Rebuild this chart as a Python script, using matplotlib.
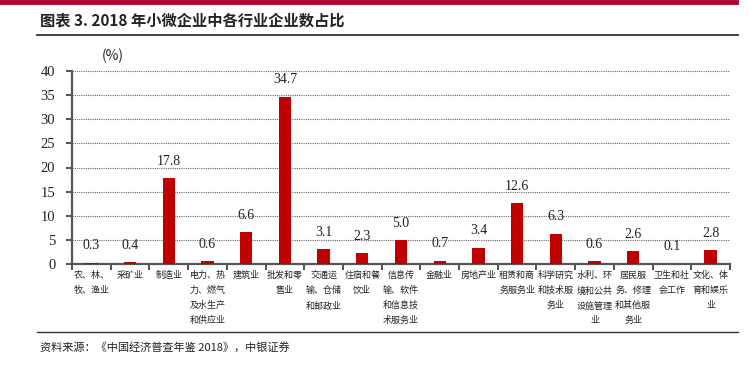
import matplotlib
matplotlib.use('Agg')
from matplotlib import pyplot as plt
from matplotlib.lines import Line2D
import numpy as np

plt.rcParams['font.family'] = ['Noto Sans CJK SC', 'DejaVu Sans']

# 行业名称（按图中换行）
categories = ['农、林、\n牧、渔业', '采矿业', '制造业', '电力、热\n力、燃气\n及水生产\n和供应业', '建筑业',
              '批发和零\n售业', '交通运\n输、仓储\n和邮政业', '住宿和餐\n饮业', '信息传\n输、软件\n和信息技\n术服务业',
              '金融业', '房地产业', '租赁和商\n务服务业', '科学研究\n和技术服\n务业', '水利、环\n境和公共\n设施管理\n业',
              '居民服\n务、修理\n和其他服\n务业', '卫生和社\n会工作', '文化、体\n育和娱乐\n业']
share = [0.3, 0.4, 17.8, 0.6, 6.6, 34.7, 3.1, 2.3, 5.0, 0.7, 3.4, 12.6, 6.3, 0.6, 2.6, 0.1, 2.8]
yticks = [0, 5, 10, 15, 20, 25, 30, 35, 40]

fig = plt.figure(figsize=(7.5, 3.67), dpi=100)

# 顶部红条、标题、分隔线
fig.add_artist(Line2D([0, 736/750], [1 - 2/367, 1 - 2/367], color='#b0002a', lw=3.5, transform=fig.transFigure))
fig.text(40/750, 1 - 20/367, '图表 3. 2018 年小微企业中各行业企业数占比', fontsize=11, fontweight='bold',
         color='#222222', va='center', ha='left')
fig.add_artist(Line2D([37/750, 738/750], [1 - 35/367, 1 - 35/367], color='#333333', lw=1.3, transform=fig.transFigure))
fig.add_artist(Line2D([37/750, 738/750], [1 - 332/367, 1 - 332/367], color='#333333', lw=1.0, transform=fig.transFigure))
fig.text(40/750, 1 - 347/367, '资料来源：《中国经济普查年鉴 2018》，中银证券', fontsize=8, style='italic',
         color='#222222', va='center', ha='left')

ax = fig.add_axes([72/750, 1 - 264/367, 658/750, 193/367])
x = np.arange(len(share))
ax.bar(x, share, width=0.32, color='#c00000', zorder=3)

for xi, v in zip(x, share):
    ax.annotate('%.1f' % v, (xi, v), xytext=(0, 12), textcoords='offset points', ha='center', va='center',
                fontsize=10, family='Liberation Serif', color='#222222', zorder=4)

ax.set_xlim(-0.5, len(share) - 0.5)
ax.set_ylim(0, 40)
ax.set_yticks(yticks)
ax.set_yticklabels([str(t) for t in yticks], family='Liberation Serif', fontsize=10.5, color='#222222')
ax.yaxis.grid(True, linestyle=(0, (1, 1)), color='#666666', lw=0.8, zorder=0)

ax.set_xticks(x)
ax.set_xticklabels(categories, fontsize=6.5, linespacing=1.85, va='top', color='#222222')
ax.set_xticks(np.arange(len(share) + 1) - 0.5, minor=True)
ax.tick_params(axis='x', which='major', length=0, pad=5)
ax.tick_params(axis='x', which='minor', length=4, width=1.2, color='#333333', direction='out')
ax.tick_params(axis='y', length=4, width=1.2, color='#333333', direction='out', pad=8)

for s in ['top', 'right']:
    ax.spines[s].set_visible(False)
for s in ['left', 'bottom']:
    ax.spines[s].set_color('#555555')
    ax.spines[s].set_linewidth(1.6)

fig.text(113/750, 1 - 56/367, '(%)', fontsize=10, color='#222222', ha='center', va='center')

fig.savefig('out.png', dpi=100)
